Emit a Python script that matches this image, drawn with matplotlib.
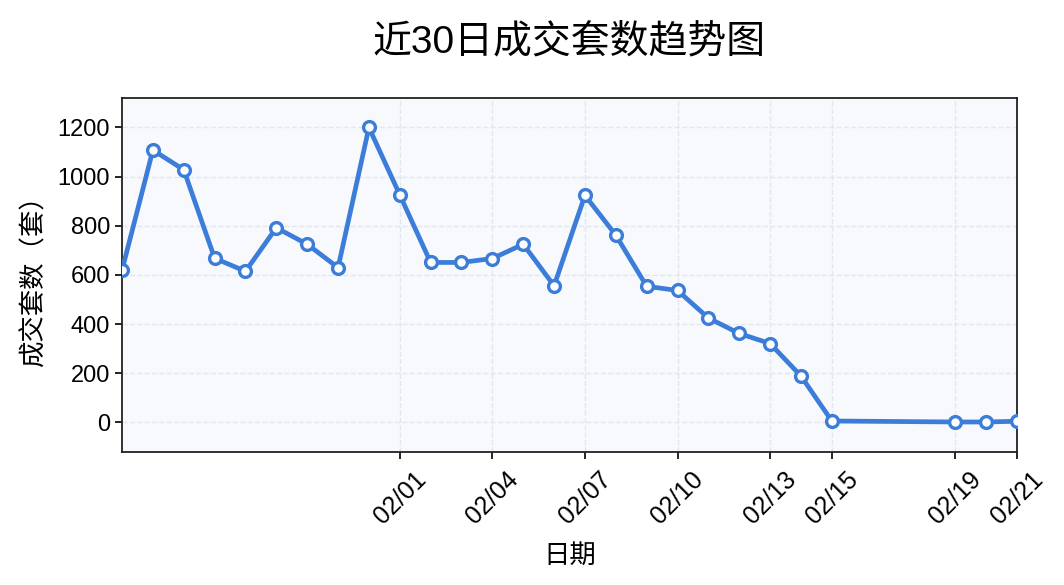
import matplotlib
matplotlib.use('Agg')
import matplotlib.pyplot as plt
import matplotlib.dates as mdates
import pandas as pd

plt.rcParams['font.family'] = ['Liberation Sans', 'Noto Sans CJK SC', 'DejaVu Sans']
plt.rcParams['axes.unicode_minus'] = False

# daily deals over the last 30 days (02/16 - 02/18 missing)
dates = ['2025-01-23', '2025-01-24', '2025-01-25', '2025-01-26', '2025-01-27',
         '2025-01-28', '2025-01-29', '2025-01-30', '2025-01-31', '2025-02-01',
         '2025-02-02', '2025-02-03', '2025-02-04', '2025-02-05', '2025-02-06',
         '2025-02-07', '2025-02-08', '2025-02-09', '2025-02-10', '2025-02-11',
         '2025-02-12', '2025-02-13', '2025-02-14', '2025-02-15', '2025-02-19',
         '2025-02-20', '2025-02-21']
deals = [620, 1108, 1028, 668, 615, 792, 725, 630, 1200, 926,
         651, 651, 667, 725, 556, 924, 762, 554, 537, 425,
         362, 321, 189, 6, 2, 2, 5]
tick_dates = ['2025-02-01', '2025-02-04', '2025-02-07', '2025-02-10',
              '2025-02-13', '2025-02-15', '2025-02-19', '2025-02-21']

x = pd.to_datetime(dates)
xt = pd.to_datetime(tick_dates)

fig = plt.figure(figsize=(10.64, 5.85), dpi=100)
ax = fig.add_axes([0.1147, 0.2274, 0.8411, 0.6051])
ax.set_facecolor('#f7f9fc')

ax.plot(x, deals, color='#3b7dd8', linewidth=3.4, marker='o', markersize=8.5,
        markerfacecolor='white', markeredgecolor='#3b7dd8', markeredgewidth=2.4,
        zorder=3)

ax.set_xlim(x[0], x[-1])
ax.set_ylim(-max(deals) * 0.1, max(deals) * 1.1)
ax.set_xticks(xt)
ax.xaxis.set_major_formatter(mdates.DateFormatter('%m/%d'))
ax.set_yticks([0, 200, 400, 600, 800, 1000, 1200])
ax.tick_params(axis='x', labelsize=18, rotation=45, length=5, width=1.2, pad=6)
ax.tick_params(axis='y', labelsize=17, length=5, width=1.2)

ax.grid(True, linestyle='--', color='#dde2ea', linewidth=1, alpha=0.8)
ax.set_axisbelow(True)
for s in ax.spines.values():
    s.set_linewidth(1.3)
    s.set_color('#222222')

ax.set_title('近30日成交套数趋势图', fontsize=28, pad=32)
ax.set_xlabel('日期', fontsize=19, labelpad=11)
ax.set_ylabel('成交套数（套）', fontsize=19, labelpad=8)

plt.savefig('out.png', dpi=100)
